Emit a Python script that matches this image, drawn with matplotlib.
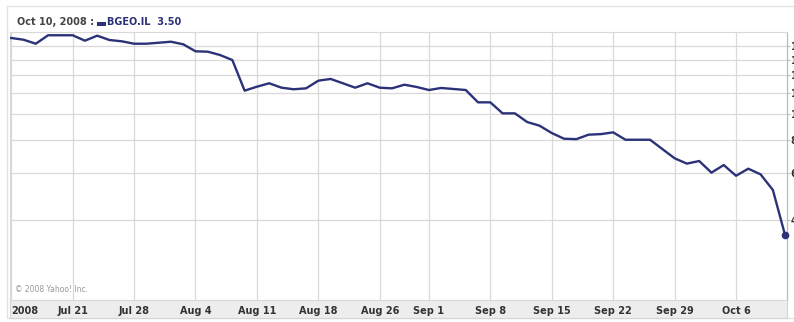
import matplotlib

matplotlib.use("Agg")
import matplotlib.pyplot as plt
from matplotlib.patches import Rectangle
from matplotlib.ticker import NullLocator

# closing prices, one per trading day (Jul 14 - Oct 10, 2008)
prices = [19.37, 19.08, 18.43, 19.83, 19.83, 19.83, 18.92, 19.76, 19.03, 18.82,
          18.43, 18.43, 18.59, 18.75, 18.34, 17.26, 17.20, 16.71, 16.00, 12.27,
          12.70, 13.08, 12.59, 12.42, 12.52, 13.38, 13.58, 13.08, 12.59, 13.08,
          12.59, 12.52, 12.92, 12.67, 12.34, 12.56, 12.45, 12.34, 11.09, 11.09,
          10.08, 10.08, 9.35, 9.06, 8.50, 8.09, 8.06, 8.38, 8.42, 8.55,
          8.02, 8.02, 8.02, 7.40, 6.83, 6.52, 6.67, 6.03, 6.44, 5.87,
          6.24, 5.94, 5.19, 3.50]
days = list(range(len(prices)))

# week labels and the trading day they fall on
tick_days = [0, 5, 10, 15, 20, 25, 30, 34, 39, 44, 49, 54, 59]
tick_labels = ["2008", "Jul 21", "Jul 28", "Aug 4", "Aug 11", "Aug 18", "Aug 26",
               "Sep 1", "Sep 8", "Sep 15", "Sep 22", "Sep 29", "Oct 6"]
y_ticks = [4, 6, 8, 10, 12, 14, 16, 18]

ticker = "BGEO.IL"
last_date = "Oct 10, 2008"

W, H = 794, 322
navy = "#2b3278"
grid = "#d9d9d9"

fig = plt.figure(figsize=(W / 100, H / 100), dpi=100)
fig.patch.set_facecolor("white")

# outer frame
fig.patches.append(Rectangle((7 / W, 4 / H), 1.0, (H - 10) / H, transform=fig.transFigure,
                             facecolor="none", edgecolor="#e2e2e2", lw=1, zorder=-2))
# date band under the plot
fig.patches.append(Rectangle((10 / W, (H - 318) / H), 777 / W, 18 / H, transform=fig.transFigure,
                             facecolor="#ededed", edgecolor="#d4d4d4", lw=0.8, zorder=-1))

ax = fig.add_axes([10 / W, (H - 300) / H, 777 / W, 268 / H])
ax.plot(days, prices, color=navy, lw=1.7, solid_joinstyle="round", zorder=3)
ax.plot(days[-1], prices[-1], "o", color=navy, ms=4.5, zorder=4, clip_on=False)

ax.set_yscale("log")
ax.set_ylim(2.0, 20.4)
ax.set_xlim(-0.1, len(prices) - 0.85)

ax.yaxis.tick_right()
ax.set_yticks(y_ticks)
ax.set_yticklabels([str(v) for v in y_ticks])
ax.yaxis.set_minor_locator(NullLocator())
ax.tick_params(axis="y", length=2, width=0.8, color="#bbbbbb", pad=0.5,
               labelsize=7, labelcolor="#333333")
for lab in ax.get_yticklabels():
    lab.set_fontweight("bold")

ax.set_xticks(tick_days)
ax.set_xticklabels(tick_labels)
ax.tick_params(axis="x", length=0, pad=4, labelsize=7, labelcolor="#333333")
for lab in ax.get_xticklabels():
    lab.set_fontweight("bold")
ax.get_xticklabels()[0].set_horizontalalignment("left")

ax.grid(True, color=grid, lw=0.9)
ax.set_axisbelow(True)
for side in ["top", "left", "bottom"]:
    ax.spines[side].set_color(grid)
    ax.spines[side].set_linewidth(0.8)
ax.spines["right"].set_color("#bbbbbb")
ax.spines["right"].set_linewidth(0.9)

ax.text(5 / 777, 6 / 268, "\u00a9 2008 Yahoo! Inc.", transform=ax.transAxes,
        fontsize=5.5, color="#999999", va="bottom", ha="left")

# header
hy = (H - 22) / H
fig.text(17 / W, hy, last_date + " :", fontsize=7, fontweight="bold", color="#444444", va="center")
fig.patches.append(Rectangle((97 / W, (H - 26) / H), 9 / W, 4 / H, transform=fig.transFigure,
                             facecolor=navy, edgecolor="none"))
fig.text(107 / W, hy, "{}  {:.2f}".format(ticker, prices[-1]), fontsize=7, fontweight="bold",
         color=navy, va="center")

fig.savefig("out.png", dpi=100)
